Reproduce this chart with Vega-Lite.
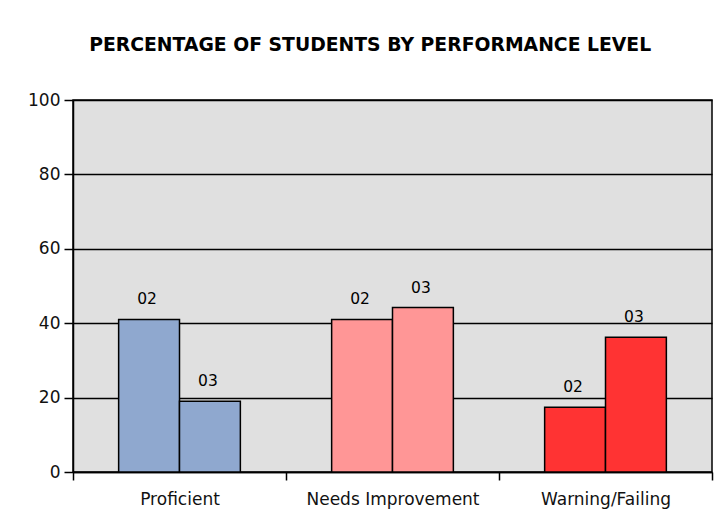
{
  "$schema": "https://vega.github.io/schema/vega-lite/v6.json",
  "width": 639,
  "height": 372,
  "autosize": "none",
  "padding": {"left": 73, "top": 100, "right": 14, "bottom": 59},
  "background": "white",
  "title": {
    "text": "PERCENTAGE OF STUDENTS BY PERFORMANCE LEVEL",
    "font": "DejaVu Sans",
    "fontSize": 18.8,
    "fontWeight": "bold",
    "color": "black",
    "anchor": "middle",
    "frame": "bounds",
    "baseline": "alphabetic",
    "offset": 21
  },
  "data": {
    "values": [
      {"level": "Proficient", "year": "02", "pct": 41},
      {"level": "Proficient", "year": "03", "pct": 19},
      {"level": "Needs Improvement", "year": "02", "pct": 41},
      {"level": "Needs Improvement", "year": "03", "pct": 44.2},
      {"level": "Warning/Failing", "year": "02", "pct": 17.4},
      {"level": "Warning/Failing", "year": "03", "pct": 36.2}
    ]
  },
  "encoding": {
    "x": {
      "field": "level",
      "type": "nominal",
      "sort": ["Proficient", "Needs Improvement", "Warning/Failing"],
      "scale": {"paddingInner": 0, "paddingOuter": 0},
      "axis": {
        "title": null,
        "labelAngle": 0,
        "labelFont": "DejaVu Sans",
        "labelFontSize": 17,
        "labelColor": "#111",
        "labelPadding": 11,
        "tickBand": "extent",
        "tickSize": 8,
        "tickColor": "black",
        "domainColor": "black",
        "domainWidth": 1.5,
        "tickWidth": 1.5
      }
    },
    "xOffset": {
      "field": "year",
      "type": "nominal",
      "scale": {"paddingInner": 0, "paddingOuter": 0.75}
    },
    "y": {
      "field": "pct",
      "type": "quantitative",
      "scale": {"domain": [0, 100], "nice": false},
      "axis": {
        "title": null,
        "values": [0, 20, 40, 60, 80, 100],
        "labelFont": "DejaVu Sans",
        "labelFontSize": 17,
        "labelColor": "#111",
        "labelPadding": 4,
        "tickSize": 9,
        "tickColor": "black",
        "tickWidth": 1.5,
        "domainColor": "black",
        "domainWidth": 1.5,
        "grid": true,
        "gridColor": "black",
        "gridWidth": 1.5,
        "gridOpacity": 1
      }
    }
  },
  "layer": [
    {
      "mark": {"type": "bar", "stroke": "black", "strokeWidth": 1.5},
      "encoding": {
        "color": {
          "field": "level",
          "type": "nominal",
          "scale": {
            "domain": ["Proficient", "Needs Improvement", "Warning/Failing"],
            "range": ["#8FA8CF", "#FF9696", "#FF3333"]
          },
          "legend": null
        }
      }
    },
    {
      "mark": {"type": "text", "font": "DejaVu Sans", "fontSize": 15.5, "baseline": "alphabetic", "dy": -15, "dx": -2, "color": "black"},
      "encoding": {
        "text": {"field": "year"}
      }
    }
  ],
  "config": {
    "view": {"fill": "#E0E0E0", "stroke": "black", "strokeWidth": 1.5}
  }
}
